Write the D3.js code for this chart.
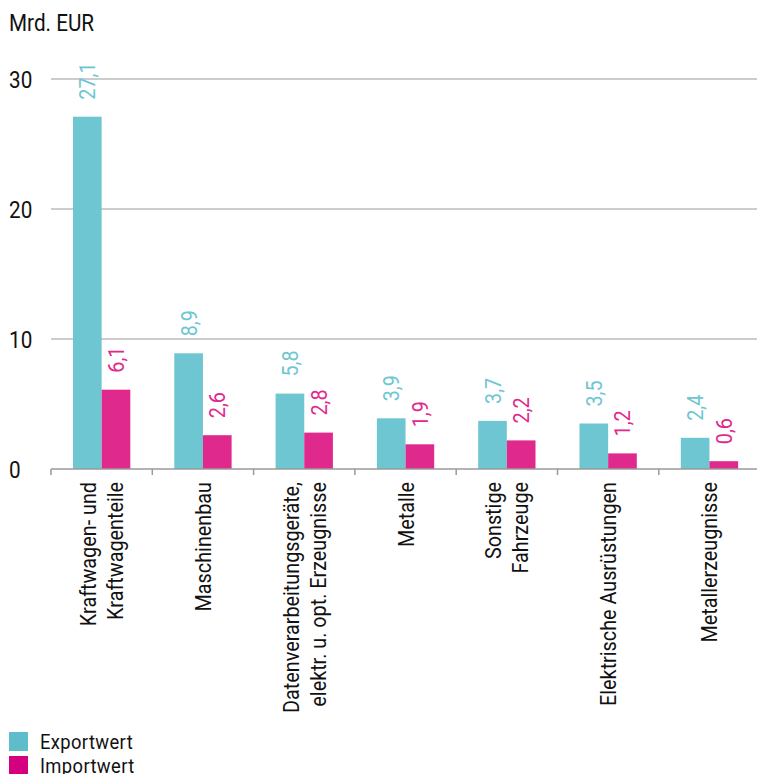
<!DOCTYPE html>
<html>
<head>
<meta charset="utf-8">
<script src="https://cdn.jsdelivr.net/npm/d3@7"></script>
<style>
  body { margin: 0; background: #fff; }
  svg text { font-family: Roboto, "Liberation Sans", sans-serif; }
</style>
</head>
<body>
<div id="chart"></div>
<script>
// Categories (line breaks as in the original labels)
let categories = [
  ["Kraftwagen- und", "Kraftwagenteile"],
  ["Maschinenbau"],
  ["Datenverarbeitungsgeräte,", "elektr. u. opt. Erzeugnisse"],
  ["Metalle"],
  ["Sonstige", "Fahrzeuge"],
  ["Elektrische Ausrüstungen"],
  ["Metallerzeugnisse"]
];
let exportValues = [27.1, 8.9, 5.8, 3.9, 3.7, 3.5, 2.4];
let importValues = [6.1, 2.6, 2.8, 1.9, 2.2, 1.2, 0.6];
let yTicks = [0, 10, 20, 30];
let seriesNames = ["Exportwert", "Importwert"];

let width = 757;
let height = 774;

let barColors = ["#6ec6d2", "#e0298d"];
let legendColors = ["#5fbccb", "#d5007f"];

// the original uses a condensed face, so squeeze text along its run
let squeeze = " scale(0.9,1)";

let svg = d3.select("#chart")
  .append("svg")
  .attr("width", width)
  .attr("height", height);

// x band per category, then inner band for the two series
let x = d3.scaleBand()
  .domain(d3.range(categories.length))
  .range([51, 51 + 101.3 * categories.length])
  .paddingInner(0)
  .paddingOuter(0);

let xInner = d3.scaleBand()
  .domain([0, 1])
  .range([22, 79.3]);

let y = d3.scaleLinear()
  .domain([0, 30])
  .range([469, 79]);

// unit label
svg.append("text")
  .attr("transform", "translate(9,31)" + squeeze)
  .attr("font-size", 23)
  .attr("fill", "#111")
  .text("Mrd. EUR");

// gridlines + tick labels
svg.append("g")
  .selectAll("line")
  .data(yTicks.filter(d => d > 0))
  .enter().append("line")
  .attr("x1", 51)
  .attr("x2", width)
  .attr("y1", d => y(d))
  .attr("y2", d => y(d))
  .attr("stroke", "#9a9a9a")
  .attr("stroke-width", 1);

svg.append("g")
  .selectAll("text")
  .data(yTicks)
  .enter().append("text")
  .attr("transform", d => "translate(9," + (y(d) + 9) + ")" + squeeze)
  .attr("font-size", 23)
  .attr("fill", "#111")
  .text(d => d);

// bars
let groups = svg.append("g")
  .selectAll("g")
  .data(categories.map((c, i) => [exportValues[i], importValues[i]]))
  .enter().append("g")
  .attr("transform", (d, i) => "translate(" + x(i) + ",0)");

groups.selectAll("rect")
  .data(d => d)
  .enter().append("rect")
  .attr("x", (d, j) => xInner(j))
  .attr("width", xInner.bandwidth())
  .attr("y", d => y(d))
  .attr("height", d => y(0) - y(d))
  .attr("fill", (d, j) => barColors[j]);

// value labels, rotated
groups.selectAll("text")
  .data(d => d)
  .enter().append("text")
  .attr("transform", (d, j) => {
    let cx = xInner(j) + xInner.bandwidth() / 2 + 8;
    let cy = y(d) - 17;
    return "translate(" + cx + "," + cy + ") rotate(-90)" + squeeze;
  })
  .attr("font-size", 22)
  .attr("fill", (d, j) => barColors[j])
  .text(d => d.toFixed(1).replace(".", ","));

// baseline axis with ticks at category boundaries
svg.append("line")
  .attr("x1", 51)
  .attr("x2", width)
  .attr("y1", y(0))
  .attr("y2", y(0))
  .attr("stroke", "#9a9a9a")
  .attr("stroke-width", 1.5);

svg.append("g")
  .selectAll("line")
  .data(d3.range(categories.length + 1))
  .enter().append("line")
  .attr("x1", i => 51 + x.step() * i)
  .attr("x2", i => 51 + x.step() * i)
  .attr("y1", y(0))
  .attr("y2", y(0) + 6)
  .attr("stroke", "#9a9a9a")
  .attr("stroke-width", 1.5);

// category labels, rotated
let catLabels = svg.append("g")
  .selectAll("text")
  .data(categories)
  .enter().append("text")
  .attr("text-anchor", "end")
  .attr("font-size", 22)
  .attr("fill", "#111")
  .attr("transform", (d, i) => {
    let cx = x(i) + x.bandwidth() / 2 + 8 - (d.length - 1) * 13.5;
    return "translate(" + cx + ",482) rotate(-90)" + squeeze;
  });

catLabels.selectAll("tspan")
  .data(d => d)
  .enter().append("tspan")
  .attr("x", 0)
  .attr("dy", (d, k) => k === 0 ? 0 : 27)
  .text(d => d);

// legend
let legend = svg.append("g")
  .selectAll("g")
  .data(seriesNames)
  .enter().append("g")
  .attr("transform", (d, i) => "translate(9," + (732 + i * 24) + ")");

legend.append("rect")
  .attr("width", 19)
  .attr("height", 19)
  .attr("fill", (d, i) => legendColors[i]);

legend.append("text")
  .attr("transform", "translate(31,17) scale(0.92,1)")
  .attr("font-size", 20)
  .attr("letter-spacing", 0.4)
  .attr("fill", "#111")
  .text(d => d);
</script>
</body>
</html>
